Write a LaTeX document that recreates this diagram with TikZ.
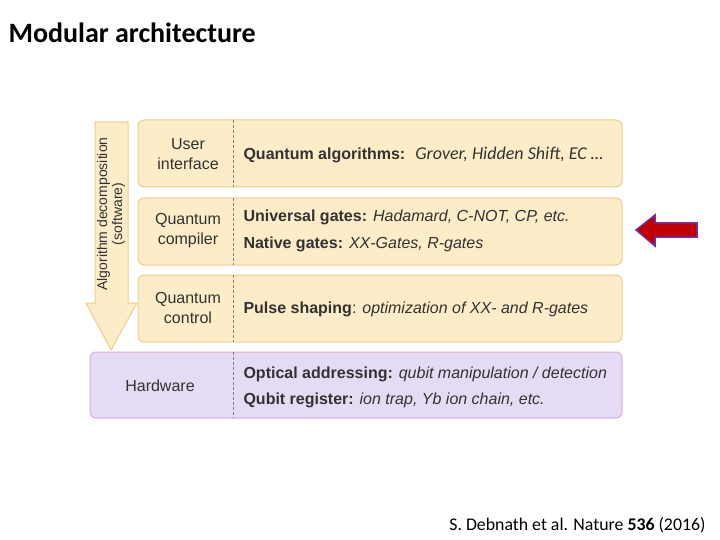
\documentclass[tikz,border=0pt]{standalone}
\usepackage{fontspec}
\setmainfont{Liberation Sans}
\newfontfamily\calib{Carlito}
\usetikzlibrary{positioning}
\definecolor{layerfill}{RGB}{253,236,200}
\definecolor{layerdraw}{RGB}{236,206,140}
\definecolor{hwfill}{RGB}{229,219,245}
\definecolor{hwdraw}{RGB}{222,170,225}
\definecolor{txtgray}{RGB}{50,50,50}
\tikzset{
  layer/.style={draw=layerdraw,fill=layerfill,rounded corners=6pt,line width=1pt},
  hwlayer/.style={draw=hwdraw,fill=hwfill,rounded corners=6pt,line width=1pt},
  lbl/.style={align=center,font=\fontsize{16}{20}\selectfont,text=txtgray},
  desc/.style={anchor=west,font=\fontsize{16}{18}\selectfont,text=txtgray},
  divider/.style={densely dashed,gray,line width=0.5pt}
}
\begin{document}
\begin{tikzpicture}[x=1pt,y=-1pt]
\useasboundingbox (0,0) rectangle (720,540);
% Title and reference
\node[anchor=west,font=\calib\bfseries\fontsize{28}{30}\selectfont] (title) at (5,33) {Modular architecture};
\node[anchor=east,font=\calib\fontsize{17.8}{20}\selectfont] (cite) at (709,525) {S. Debnath et al. Nature \textbf{536} (2016)};
% Software arrow
\draw[draw=layerdraw,fill=layerfill,line width=1pt] (95,122) -- (128,122) -- (128,303) -- (137,303) -- (111,350) -- (86,303) -- (95,303) -- cycle;
\node[rotate=90,align=center,font=\fontsize{14}{15}\selectfont,text=txtgray] (algo) at (111,214) {Algorithm decomposition\\(software)};
% Layers
\draw[layer] (138,120) rectangle (622,187);
\draw[layer] (138,198) rectangle (622,265);
\draw[layer] (138,275) rectangle (622,342);
\draw[hwlayer] (90,352) rectangle (622,418);
\foreach \ya/\yb in {120/187,198/265,275/342,352/418}
  \draw[divider] (233,\ya) -- (233,\yb);
\node[lbl] (user) at (188,154) {User\\interface};
\node[lbl] (compiler) at (188,231) {Quantum\\compiler};
\node[lbl] (control) at (188,308) {Quantum\\control};
\node[lbl] (hardware) at (160,386) {Hardware};
\node[desc] (algs) at (240,155) {\textbf{Quantum algorithms:} {\calib\itshape\fontsize{18}{20}\selectfont\ Grover, Hidden Shift, EC \dots}};
\node[desc] (univ) at (240,217) {\textbf{Universal gates:} \textit{Hadamard, C-NOT, CP, etc.}};
\node[desc] (native) at (240,244) {\textbf{Native gates:} \textit{XX-Gates, R-gates}};
\node[desc] (pulse) at (240,309) {\textbf{Pulse shaping}: \textit{optimization of XX- and R-gates}};
\node[desc] (optic) at (240,374) {\textbf{Optical addressing:} \textit{qubit manipulation / detection}};
\node[desc] (qubit) at (240,400) {\textbf{Qubit register:} \textit{ion trap, Yb ion chain, etc.}};
% Pointer
\draw[draw={rgb,255:red,112;green,48;blue,160},fill={rgb,255:red,192;green,0;blue,0},line width=1.5pt]
  (697,223) -- (655,223) -- (655,215) -- (636,230) -- (655,246) -- (655,237) -- (697,237) -- cycle;
\end{tikzpicture}
\end{document}
